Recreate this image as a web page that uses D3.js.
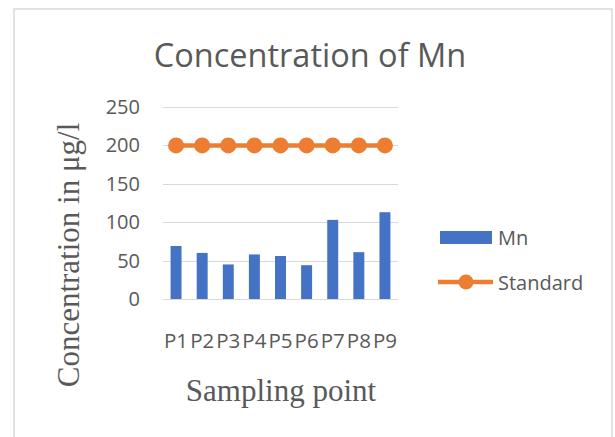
<!DOCTYPE html>
<html><head><meta charset="utf-8">
<script src="https://cdn.jsdelivr.net/npm/d3@7"></script>
<style>html,body{margin:0;padding:0;background:#fff;}svg{display:block;}</style>
</head><body>
<svg id="c" width="615" height="437"></svg>
<script>
const categories = ["P1","P2","P3","P4","P5","P6","P7","P8","P9"];
const mnValues = [69, 60, 45, 58, 56, 44, 103, 61, 113];
const standardValues = [200, 200, 200, 200, 200, 200, 200, 200, 200];
const yTicks = [0, 50, 100, 150, 200, 250];
const seriesNames = ["Mn", "Standard"];

(function () {
const svg = d3.select("#c");
const pLeft = 163, pRight = 398, pTop = 107, pBottom = 299;
const sans = "'Open Sans', sans-serif";
const grey = "#595959";

svg.append("rect").attr("x", 14).attr("y", 9).attr("width", 598).attr("height", 440)
  .attr("fill", "#fff").attr("stroke", "#D9D9D9").attr("stroke-width", 1.5);

const x = d3.scaleBand().domain(categories).range([pLeft, pRight]).padding(0);
const y = d3.scaleLinear().domain([0, 250]).range([pBottom, pTop]);

svg.append("g").selectAll("line").data(yTicks).join("line")
  .attr("x1", pLeft).attr("x2", pRight)
  .attr("y1", d => Math.round(y(d)) + 0.5).attr("y2", d => Math.round(y(d)) + 0.5)
  .attr("stroke", "#D9D9D9").attr("stroke-width", 1);

const yAxis = d3.axisLeft(y).tickValues(yTicks).tickSize(0).tickPadding(0);
const gy = svg.append("g").attr("transform", "translate(140,0)").call(yAxis);
gy.select(".domain").remove();
gy.selectAll("text").attr("fill", grey).style("font-family", sans).style("font-size", "20px");

const xAxis = d3.axisBottom(x).tickSize(0).tickPadding(0);
const gx = svg.append("g").attr("transform", "translate(0,333)").call(xAxis);
gx.select(".domain").remove();
gx.selectAll("text").attr("fill", grey).style("font-family", sans).style("font-size", "20.5px");

const bw = x.bandwidth() * 0.42;
svg.append("g").selectAll("rect").data(categories).join("rect")
  .attr("x", d => x(d) + x.bandwidth() / 2 - bw / 2)
  .attr("width", bw)
  .attr("y", (d, i) => y(mnValues[i]))
  .attr("height", (d, i) => y(0) - y(mnValues[i]))
  .attr("fill", "#4472C4");

const line = d3.line().x((d, i) => x(categories[i]) + x.bandwidth() / 2).y(d => y(d));
svg.append("path").datum(standardValues).attr("d", line)
  .attr("fill", "none").attr("stroke", "#ED7D31").attr("stroke-width", 4.5);
svg.append("g").selectAll("circle").data(standardValues).join("circle")
  .attr("cx", (d, i) => x(categories[i]) + x.bandwidth() / 2)
  .attr("cy", d => y(d)).attr("r", 8).attr("fill", "#ED7D31");

svg.append("text").attr("x", 310).attr("y", 67).attr("text-anchor", "middle")
  .attr("fill", grey).style("font-family", sans).style("font-size", "32.5px")
  .text("Concentration of Mn");

svg.append("text").attr("x", 281).attr("y", 401).attr("text-anchor", "middle")
  .attr("fill", grey).style("font-family", "'Liberation Serif', serif").style("font-size", "31px")
  .text("Sampling point");

svg.append("text").attr("transform", "translate(79,255) rotate(-90)").attr("text-anchor", "middle")
  .attr("fill", grey).style("font-family", "'Liberation Serif', serif").style("font-size", "31px")
  .text("Concentration in μg/l");

const lg = svg.append("g");
lg.append("rect").attr("x", 440).attr("y", 231).attr("width", 52).attr("height", 13).attr("fill", "#4472C4");
lg.append("text").attr("x", 498).attr("y", 245).attr("fill", grey).style("font-family", sans).style("font-size", "20px").text(seriesNames[0]);
lg.append("line").attr("x1", 438).attr("x2", 493).attr("y1", 282).attr("y2", 282).attr("stroke", "#ED7D31").attr("stroke-width", 4.5);
lg.append("circle").attr("cx", 466).attr("cy", 282).attr("r", 7.5).attr("fill", "#ED7D31");
lg.append("text").attr("x", 498).attr("y", 290).attr("fill", grey).style("font-family", sans).style("font-size", "20px").text(seriesNames[1]);
})();
</script>
</body></html>
